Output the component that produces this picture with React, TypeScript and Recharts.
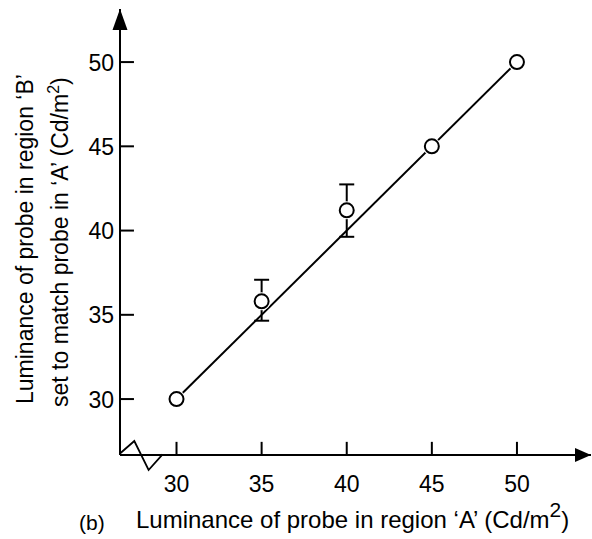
import React from "react";
import {
  ComposedChart,
  XAxis,
  YAxis,
  Scatter,
  Line,
  ErrorBar,
  ReferenceLine,
  ReferenceDot,
} from "recharts";

const probeA = [30, 35, 40, 45, 50];
const matchB = [30, 35.8, 41.2, 45, 50];
const errLow = [null, 1.15, 1.57, null, null];
const errHigh = [null, 1.28, 1.54, null, null];

const fitX = [30, 50];
const fitY = [30, 50];

const xTicks = [30, 35, 40, 45, 50];
const yTicks = [30, 35, 40, 45, 50];

const X_MIN = 26.68;
const X_MAX = 54.35;
const Y_MIN = 26.68;
const Y_MAX = 53.15;

const FONT = "'Liberation Sans', Arial, sans-serif";

const points = probeA.map((x, i) => ({
  x,
  y: matchB[i],
  err: errLow[i] == null ? null : [errLow[i], errHigh[i]],
}));

const fitLine = fitX.map((x, i) => ({ x, y: fitY[i] }));

function OpenCircle(props: any) {
  const { cx, cy } = props;
  return (
    <g>
      <circle cx={cx} cy={cy} r={9} fill="#fff" />
      <circle cx={cx} cy={cy} r={7} fill="#fff" stroke="#000" strokeWidth={2} />
    </g>
  );
}

function XTick(props: any) {
  const { x, y, payload } = props;
  return (
    <text x={x} y={y + 36.5} textAnchor="middle" fontSize={23} fontFamily={FONT} fill="#000">
      {payload.value}
    </text>
  );
}

function YTick(props: any) {
  const { x, y, payload } = props;
  return (
    <text x={x - 6} y={y + 8.5} textAnchor="end" fontSize={23} fontFamily={FONT} fill="#000">
      {payload.value}
    </text>
  );
}

function XLabel() {
  return (
    <g fontFamily={FONT} fill="#000">
      <text x={79} y={530} fontSize={21}>
        (b)
      </text>
      <text x={136} y={527.5} fontSize={24}>
        Luminance of probe in region ‘A’ (Cd/m
        <tspan dy={-11} fontSize={21}>2</tspan>
        <tspan dy={11}>)</tspan>
      </text>
    </g>
  );
}

function YLabel() {
  return (
    <g fontFamily={FONT} fill="#000" fontSize={23}>
      <text x={32.5} y={404} transform="rotate(-90, 32.5, 404)">
        Luminance of probe in region ‘B’
      </text>
      <text x={67.5} y={407} transform="rotate(-90, 67.5, 407)">
        set to match probe in ‘A’ (Cd/m
        <tspan dy={-9} fontSize={16}>2</tspan>
        <tspan dy={9}>)</tspan>
      </text>
    </g>
  );
}

const xArrow = (p: any) => (
  <path d={`M${p.cx},${p.cy} L${p.cx - 16},${p.cy - 7} L${p.cx - 16},${p.cy + 7} Z`} fill="#000" />
);

const yArrow = (p: any) => (
  <path d={`M${p.cx},${p.cy} L${p.cx - 7.5},${p.cy + 21} L${p.cx + 7.5},${p.cy + 21} Z`} fill="#000" />
);

const axisBreak = (p: any) => (
  <path
    d={`M${p.cx},${p.cy - 1.5} L${p.cx + 14.3},${p.cy - 14} L${p.cx + 28.6},${p.cy + 15} L${p.cx + 42.6},${p.cy - 0.7}`}
    fill="none"
    stroke="#000"
    strokeWidth={1.8}
  />
);

export default function App() {
  return (
    <div style={{ position: "absolute", left: 0, top: 0, width: 592, height: 539, background: "#fff" }}>
      <ComposedChart
        width={592}
        height={539}
        margin={{ top: 9, right: 1, bottom: 0, left: 0 }}
      >
        <XAxis
          type="number"
          dataKey="x"
          domain={[X_MIN, X_MAX]}
          ticks={xTicks}
          height={84}
          axisLine={{ stroke: "#000", strokeWidth: 2 }}
          tickLine={false}
          tickSize={0}
          tickMargin={0}
          tick={<XTick />}
          label={{ content: () => <XLabel /> }}
        />
        <YAxis
          type="number"
          dataKey="y"
          domain={[Y_MIN, Y_MAX]}
          ticks={yTicks}
          width={120}
          axisLine={{ stroke: "#000", strokeWidth: 2 }}
          tickLine={false}
          tickSize={0}
          tickMargin={0}
          tick={<YTick />}
          label={{ content: () => <YLabel /> }}
        />

        {yTicks.map((v) => (
          <ReferenceLine
            key={`yt${v}`}
            segment={[
              { x: X_MIN, y: v },
              { x: X_MIN + 0.82, y: v },
            ]}
            stroke="#000"
            strokeWidth={2}
            ifOverflow="visible"
          />
        ))}
        {xTicks.map((v) => (
          <ReferenceLine
            key={`xt${v}`}
            segment={[
              { x: v, y: Y_MIN },
              { x: v, y: Y_MIN + 0.78 },
            ]}
            stroke="#000"
            strokeWidth={2}
            ifOverflow="visible"
          />
        ))}

        <ReferenceDot x={X_MAX} y={Y_MIN} ifOverflow="visible" shape={xArrow} />
        <ReferenceDot x={X_MIN} y={Y_MAX} ifOverflow="visible" shape={yArrow} />
        <ReferenceDot x={X_MIN} y={Y_MIN} ifOverflow="visible" shape={axisBreak} />

        <Line
          data={fitLine}
          dataKey="y"
          type="linear"
          stroke="#000"
          strokeWidth={2}
          dot={false}
          activeDot={false}
          isAnimationActive={false}
        />
        <Scatter data={points} dataKey="y" shape={<OpenCircle />} isAnimationActive={false}>
          <ErrorBar dataKey="err" direction="y" width={7.5} stroke="#000" strokeWidth={2} />
        </Scatter>
      </ComposedChart>
    </div>
  );
}
